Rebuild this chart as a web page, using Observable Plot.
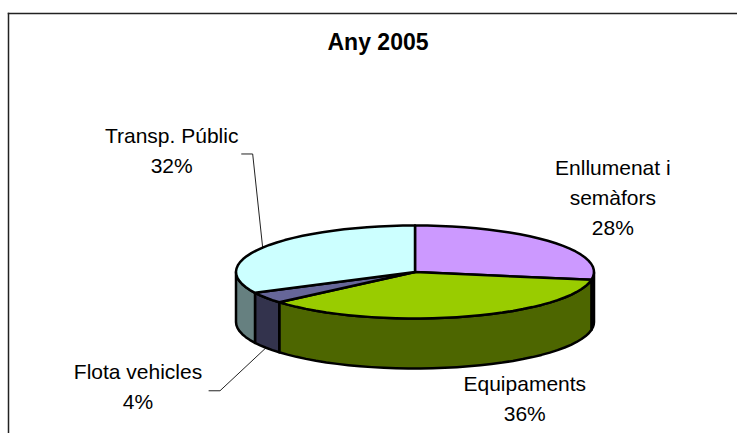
<!DOCTYPE html>
<html>
<head>
<meta charset="utf-8">
<script src="https://cdn.jsdelivr.net/npm/d3@7"></script>
<script src="https://cdn.jsdelivr.net/npm/@observablehq/plot@0.6"></script>
<style>
html,body{margin:0;padding:0;background:#fff;overflow:hidden}
svg{display:block}
</style>
</head>
<body>
<div id="chart"></div>
<script>
// Data
const chartTitle = "Any 2005";
const categories = ["Enllumenat i\nsemàfors", "Equipaments", "Flota vehicles", "Transp. Públic"];
const shares = [27.7, 36, 3.9, 32.4];
const topColors = ["#CC99FF", "#99CC00", "#666699", "#CCFFFF"];
const sideColors = ["#664D80", "#4D6600", "#33334D", "#668080"];

// Layout of labels and leaders (pixels, relative to each slice's rim midpoint)
const labelDx = [61, 62, -128, -91];
const labelDy = [-47, 80, 87, -99];
const leaderOffsets = [null, null, [[-57, 43], [-46, 43]], [[-21, -93.6], [-10, -93.6]]];
const leaderOnBase = [false, false, true, false];

const cx = 414.5, cy = 271.5, rx = 179, ry = 46.5, depthPx = 50;
const depth = depthPx / ry;
const arcStep = Math.PI / 45;

const pie = d3.pie().sort(null).startAngle(0).endAngle(2 * Math.PI)(shares);
const rim = a => ({x: Math.sin(a), y: -Math.cos(a)});
function arcPts(a0, a1) {
  const n = Math.max(1, Math.ceil((a1 - a0) / arcStep));
  return d3.range(n + 1).map(i => rim(a0 + (a1 - a0) * i / n));
}

const faces = [];
// side walls: only the front half of the rim is visible
pie.forEach((s, i) => {
  const a0 = Math.max(s.startAngle, Math.PI / 2), a1 = Math.min(s.endAngle, 3 * Math.PI / 2);
  if (a1 <= a0) return;
  const top = arcPts(a0, a1);
  const bottom = top.map(p => ({x: p.x, y: p.y + depth})).reverse();
  [...top, ...bottom].forEach(p => faces.push({...p, face: "side" + i, fill: sideColors[i]}));
});
// top faces
pie.forEach((s, i) => {
  [{x: 0, y: 0}, ...arcPts(s.startAngle, s.endAngle)]
    .forEach(p => faces.push({...p, face: "top" + i, fill: topColors[i]}));
});

const labels = pie.map((s, i) => {
  const m = rim((s.startAngle + s.endAngle) / 2);
  return {...m, text: categories[i] + "\n" + Math.round(shares[i]) + "%", dx: labelDx[i], dy: labelDy[i]};
});

const leaders = [];
pie.forEach((s, i) => {
  if (!leaderOffsets[i]) return;
  const m = rim((s.startAngle + s.endAngle) / 2);
  const base = {x: m.x, y: m.y + (leaderOnBase[i] ? depth : 0)};
  leaderOffsets[i].forEach(([dx, dy]) =>
    leaders.push({x: base.x + dx / rx, y: base.y + dy / ry, id: i}));
  leaders.push({...base, id: i});
});

const font = "'Liberation Sans', Arial, sans-serif";
const chart = Plot.plot({
  width: 737, height: 433,
  marginTop: 13, marginLeft: 8, marginRight: 0, marginBottom: 0,
  style: {background: "#fff", fontFamily: font},
  x: {domain: [-1, 1], range: [cx - rx, cx + rx], axis: null},
  y: {domain: [-1, 1], range: [cy - ry, cy + ry], axis: null},
  color: {type: "identity"},
  marks: [
    Plot.frame({anchor: "top", stroke: "#222", strokeWidth: 1.5}),
    Plot.frame({anchor: "left", stroke: "#222", strokeWidth: 1.5}),
    Plot.line(leaders, {x: "x", y: "y", z: "id", stroke: "#222", strokeWidth: 1}),
    Plot.line(faces, {x: "x", y: "y", z: "face", fill: "fill", stroke: "#000", strokeWidth: 2.5,
      curve: "linear-closed", strokeLinejoin: "round"}),
    ...labels.map(l => Plot.text([l], {x: "x", y: "y", text: "text", dx: l.dx, dy: l.dy,
      fontSize: 21, lineHeight: 30 / 21, fill: "#000", textAnchor: "middle", style: {letterSpacing: "-0.2px"}})),
    Plot.text([chartTitle], {frameAnchor: "top", dx: 5, dy: 29, fontSize: 23, fontWeight: "bold",
      fill: "#000", lineAnchor: "middle"})
  ]
});
document.getElementById("chart").appendChild(chart);
</script>
</body>
</html>
